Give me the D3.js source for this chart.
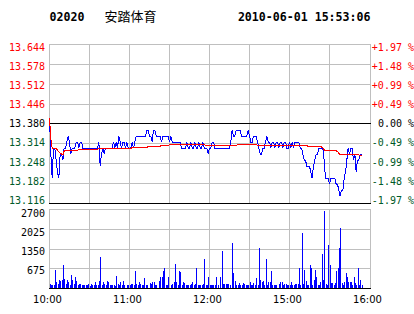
<!DOCTYPE html>
<html>
<head>
<meta charset="utf-8">
<script src="https://cdn.jsdelivr.net/npm/d3@7"></script>
<style>
  body { margin: 0; background: #fff; }
  svg { display: block; }
  text { font-family: "DejaVu Sans Mono", monospace; font-size: 10px; }
</style>
</head>
<body>
<svg id="chart" width="414" height="314"></svg>
<script>
const stockCode = '02020';
const stockName = '安踏体育';
const stampText = '2010-06-01 15:53:06';

const prevClose = 13.38;
const priceTicks = [13.644, 13.578, 13.512, 13.446, 13.380, 13.314, 13.248, 13.182, 13.116];
const pctTicks = ['+1.97 %', '+1.48 %', '+0.99 %', '+0.49 %', '0.00 %', '-0.49 %', '-0.99 %', '-1.48 %', '-1.97 %'];
const volTicks = [2700, 2025, 1350, 675];
const volGrid = [0, 675, 1350, 2025, 2700];
// minutes since open (lunch break removed), 4h session
const timeTicks = [0, 60, 120, 180, 240];
const timeLabels = ['10:00', '11:00', '12:00', '15:00', '16:00'];
const timeGrid = [0, 30, 60, 90, 120, 150, 180, 210, 240];

// one value per minute
const prices = [
  13.40, 13.28, 13.20, 13.30, 13.30, 13.26, 13.22, 13.20, 13.28, 13.28,
  13.26, 13.30, 13.30, 13.32, 13.34, 13.32, 13.28, 13.30, 13.30, 13.30,
  13.32, 13.32, 13.30, 13.32, 13.32, 13.30, 13.30, 13.30, 13.30, 13.30,
  13.30, 13.30, 13.30, 13.30, 13.30, 13.30, 13.30, 13.32, 13.24, 13.28,
  13.30, 13.28, 13.30, 13.30, 13.30, 13.30, 13.30, 13.30, 13.32, 13.30,
  13.32, 13.30, 13.34, 13.32, 13.30, 13.32, 13.32, 13.30, 13.32, 13.30,
  13.30, 13.30, 13.32, 13.30, 13.32, 13.34, 13.34, 13.34, 13.34, 13.34,
  13.34, 13.34, 13.34, 13.36, 13.36, 13.34, 13.34, 13.32, 13.36, 13.36,
  13.34, 13.34, 13.34, 13.34, 13.32, 13.34, 13.34, 13.34, 13.34, 13.34,
  13.32, 13.34, 13.32, 13.32, 13.32, 13.32, 13.32, 13.32, 13.32, 13.30,
  13.30, 13.30, 13.30, 13.32, 13.30, 13.30, 13.32, 13.30, 13.30, 13.32,
  13.30, 13.30, 13.32, 13.30, 13.30, 13.32, 13.30, 13.30, 13.30, 13.28,
  13.30, 13.30, 13.32, 13.32, 13.30, 13.30, 13.30, 13.30, 13.30, 13.30,
  13.30, 13.30, 13.30, 13.30, 13.30, 13.30, 13.32, 13.36, 13.34, 13.34,
  13.36, 13.36, 13.36, 13.36, 13.34, 13.34, 13.34, 13.34, 13.34, 13.36,
  13.34, 13.32, 13.32, 13.34, 13.34, 13.34, 13.32, 13.30, 13.28, 13.28,
  13.30, 13.30, 13.32, 13.34, 13.32, 13.32, 13.30, 13.32, 13.32, 13.30,
  13.32, 13.32, 13.30, 13.32, 13.32, 13.30, 13.32, 13.32, 13.30, 13.30,
  13.32, 13.30, 13.32, 13.30, 13.32, 13.32, 13.32, 13.32, 13.30, 13.30,
  13.28, 13.26, 13.26, 13.24, 13.24, 13.24, 13.22, 13.20, 13.24, 13.26,
  13.28, 13.28, 13.30, 13.30, 13.30, 13.30, 13.26, 13.20, 13.20, 13.20,
  13.18, 13.20, 13.20, 13.20, 13.20, 13.18, 13.18, 13.16, 13.14, 13.16,
  13.16, 13.20, 13.22, 13.26, 13.30, 13.28, 13.30, 13.30, 13.26, 13.28,
  13.22, 13.26, 13.26, 13.28, 13.28
];

const avgPrices = [
  13.400, 13.330, 13.299, 13.299, 13.299, 13.299, 13.293, 13.288, 13.284, 13.280,
  13.277, 13.290, 13.292, 13.292, 13.292, 13.292, 13.292, 13.292, 13.292, 13.292,
  13.292, 13.292, 13.296, 13.296, 13.296, 13.296, 13.296, 13.296, 13.296, 13.296,
  13.296, 13.296, 13.296, 13.296, 13.296, 13.296, 13.296, 13.299, 13.299, 13.299,
  13.299, 13.299, 13.299, 13.299, 13.299, 13.299, 13.299, 13.299, 13.299, 13.299,
  13.299, 13.299, 13.299, 13.299, 13.299, 13.299, 13.299, 13.299, 13.299, 13.299,
  13.299, 13.299, 13.302, 13.302, 13.302, 13.302, 13.302, 13.302, 13.302, 13.302,
  13.302, 13.302, 13.302, 13.302, 13.306, 13.306, 13.306, 13.306, 13.306, 13.306,
  13.306, 13.306, 13.306, 13.306, 13.309, 13.309, 13.309, 13.309, 13.309, 13.309,
  13.312, 13.312, 13.312, 13.312, 13.312, 13.312, 13.312, 13.312, 13.312, 13.312,
  13.312, 13.312, 13.312, 13.312, 13.312, 13.312, 13.312, 13.312, 13.312, 13.312,
  13.312, 13.312, 13.312, 13.312, 13.312, 13.312, 13.312, 13.309, 13.309, 13.309,
  13.309, 13.309, 13.309, 13.309, 13.309, 13.309, 13.309, 13.309, 13.309, 13.309,
  13.309, 13.309, 13.309, 13.309, 13.309, 13.309, 13.309, 13.309, 13.309, 13.309,
  13.309, 13.312, 13.312, 13.312, 13.312, 13.312, 13.312, 13.312, 13.312, 13.312,
  13.312, 13.312, 13.312, 13.312, 13.312, 13.312, 13.309, 13.309, 13.309, 13.309,
  13.309, 13.309, 13.309, 13.309, 13.309, 13.309, 13.309, 13.309, 13.309, 13.309,
  13.309, 13.309, 13.309, 13.309, 13.309, 13.309, 13.309, 13.309, 13.309, 13.309,
  13.309, 13.309, 13.309, 13.309, 13.309, 13.309, 13.309, 13.309, 13.309, 13.309,
  13.309, 13.309, 13.309, 13.309, 13.304, 13.304, 13.304, 13.304, 13.304, 13.304,
  13.304, 13.304, 13.304, 13.304, 13.304, 13.300, 13.295, 13.291, 13.291, 13.291,
  13.291, 13.291, 13.291, 13.291, 13.291, 13.291, 13.288, 13.283, 13.278, 13.278,
  13.278, 13.278, 13.278, 13.278, 13.278, 13.278, 13.278, 13.278, 13.278, 13.278,
  13.278, 13.278, 13.278, 13.275, 13.275
];

const volumes = [
  120, 110, 100, 90, 600, 210, 120, 290, 250, 260,
  770, 320, 120, 260, 190, 100, 430, 290, 120, 360,
  250, 90, 120, 150, 90, 90, 90, 90, 90, 120,
  60, 120, 90, 90, 220, 90, 90, 256, 1075, 90,
  188, 120, 90, 256, 188, 90, 90, 90, 90, 60,
  400, 120, 90, 188, 90, 256, 90, 0, 90, 90,
  90, 120, 120, 90, 570, 120, 90, 188, 120, 90,
  90, 325, 90, 90, 0, 154, 120, 188, 222, 90,
  90, 0, 256, 359, 380, 590, 680, 90, 90, 393,
  0, 90, 120, 222, 837, 222, 90, 598, 530, 90,
  188, 154, 90, 90, 90, 90, 120, 188, 90, 120,
  700, 90, 90, 90, 90, 120, 1008, 90, 90, 393,
  90, 90, 90, 90, 90, 393, 90, 0, 393, 1248,
  120, 120, 120, 120, 120, 90, 0, 1521, 496, 256,
  90, 90, 154, 90, 90, 154, 120, 90, 90, 90,
  222, 90, 90, 154, 90, 325, 90, 1360, 290, 222,
  256, 90, 1008, 90, 188, 188, 564, 90, 90, 90,
  90, 0, 120, 188, 188, 90, 120, 120, 90, 90,
  90, 222, 90, 90, 120, 120, 120, 700, 90, 1863,
  120, 632, 256, 90, 90, 769, 700, 90, 290, 632,
  393, 90, 90, 188, 1179, 290, 2625, 120, 90, 1453,
  803, 154, 154, 90, 154, 564, 700, 1384, 2034, 154,
  90, 222, 496, 393, 222, 188, 222, 90, 359, 154,
  90, 700, 90, 290, 90
];

const RED = '#ff0000';
const GREEN = '#005a28';
const GRID = '#bfbfbf';

const svg = d3.select('#chart');

const x = d3.scaleLinear().domain([0, 240]).range([49.5, 369.5]);
const yPrice = d3.scaleLinear().domain([13.116, 13.644]).range([203.5, 44.5]);
const yVol = d3.scaleLinear().domain([0, 2700]).range([288.5, 209.5]);
// label rows sit slightly off the grid rows
const yPriceLabel = d3.scaleLinear().domain([13.116, 13.644]).range([200.3, 46.9]);
const yVolLabel = d3.scaleLinear().domain([0, 2700]).range([289.3, 213.3]);

const crisp = (v) => Math.floor(v) + 0.5;
const labelColor = (v) => v > prevClose + 1e-6 ? RED : (v < prevClose - 1e-6 ? GREEN : '#000');

/* header */
const head = svg.append('g').attr('class', 'header');
head.append('text')
  .attr('x', 49.5).attr('y', 20.5)
  .style('font-size', '11.6px').style('font-weight', 'bold')
  .text(stockCode);
head.append('text')
  .attr('x', 104.5).attr('y', 20.5)
  .style('font-family', '"Noto Sans CJK SC", sans-serif').style('font-size', '13px')
  .text(stockName);
head.append('text')
  .attr('x', 370.5).attr('y', 20.5).attr('text-anchor', 'end')
  .style('font-size', '11.6px').style('font-weight', 'bold')
  .text(stampText);

/* grids */
const grid = svg.append('g').attr('class', 'grid').attr('shape-rendering', 'crispEdges');

grid.selectAll('.price-row').data(priceTicks).enter().append('line')
  .attr('class', 'price-row')
  .attr('x1', 49).attr('x2', 371)
  .attr('y1', (d) => crisp(yPrice(d))).attr('y2', (d) => crisp(yPrice(d)))
  .attr('stroke', (d, i) => (i === 4 || i === priceTicks.length - 1) ? '#000' : GRID);

grid.selectAll('.vol-row').data(volGrid).enter().append('line')
  .attr('class', 'vol-row')
  .attr('x1', 49).attr('x2', 371)
  .attr('y1', (d) => crisp(yVol(d))).attr('y2', (d) => crisp(yVol(d)))
  .attr('stroke', (d) => d === 0 ? '#000' : GRID);

grid.selectAll('.price-col').data(timeGrid).enter().append('line')
  .attr('class', 'price-col')
  .attr('x1', (d) => d === 240 ? 370.5 : crisp(x(d))).attr('x2', (d) => d === 240 ? 370.5 : crisp(x(d)))
  .attr('y1', crisp(yPrice(13.644))).attr('y2', crisp(yPrice(13.116)))
  .attr('stroke', GRID);

grid.selectAll('.vol-col').data(timeGrid).enter().append('line')
  .attr('class', 'vol-col')
  .attr('x1', (d) => d === 240 ? 370.5 : crisp(x(d))).attr('x2', (d) => d === 240 ? 370.5 : crisp(x(d)))
  .attr('y1', crisp(yVol(2700))).attr('y2', crisp(yVol(0)))
  .attr('stroke', GRID);

// redraw the black rows over the columns
grid.selectAll('.black-row').data([prevClose, 13.116]).enter().append('line')
  .attr('x1', 49).attr('x2', 371)
  .attr('y1', (d) => crisp(yPrice(d))).attr('y2', (d) => crisp(yPrice(d)))
  .attr('stroke', '#000');
grid.append('line')
  .attr('x1', 49).attr('x2', 371)
  .attr('y1', crisp(yVol(0))).attr('y2', crisp(yVol(0)))
  .attr('stroke', '#000');

/* volume bars */
svg.append('g').attr('class', 'volumes').attr('shape-rendering', 'crispEdges')
  .selectAll('rect').data(volumes).enter().append('rect')
  .attr('x', (d, i) => Math.round(x(i)))
  .attr('width', 1)
  .attr('y', (d) => Math.floor(yVol(d)))
  .attr('height', (d) => Math.max(0, Math.floor(yVol(0)) - Math.floor(yVol(d))))
  .attr('fill', '#0000ff');

/* price and average lines */
const line = d3.line()
  .x((d, i) => x(i))
  .y((d) => yPrice(d));

svg.append('path')
  .datum(prices)
  .attr('d', line)
  .attr('fill', 'none')
  .attr('stroke', '#0000ff')
  .attr('stroke-width', 1)
  .attr('shape-rendering', 'crispEdges');

svg.append('path')
  .datum(avgPrices)
  .attr('d', line)
  .attr('fill', 'none')
  .attr('stroke', RED)
  .attr('stroke-width', 1)
  .attr('shape-rendering', 'crispEdges');

/* axis labels */
svg.append('g').attr('class', 'price-labels')
  .selectAll('text').data(priceTicks).enter().append('text')
  .attr('x', 45).attr('y', (d) => yPriceLabel(d))
  .attr('dy', '0.36em')
  .attr('text-anchor', 'end')
  .attr('fill', labelColor)
  .text((d) => d3.format('.3f')(d));

svg.append('g').attr('class', 'pct-labels')
  .selectAll('text').data(pctTicks).enter().append('text')
  .attr('x', 414).attr('y', (d, i) => yPriceLabel(priceTicks[i]))
  .attr('dy', '0.36em')
  .attr('text-anchor', 'end')
  .attr('fill', (d, i) => labelColor(priceTicks[i]))
  .text((d) => d);

svg.append('g').attr('class', 'vol-labels')
  .selectAll('text').data(volTicks).enter().append('text')
  .attr('x', 45).attr('y', (d) => yVolLabel(d))
  .attr('dy', '0.36em')
  .attr('text-anchor', 'end')
  .attr('fill', '#000')
  .text((d) => d);

svg.append('g').attr('class', 'time-labels')
  .selectAll('text').data(timeTicks).enter().append('text')
  .attr('x', (d) => x(d) - 2).attr('y', 302.5)
  .attr('text-anchor', 'middle')
  .style('font-family', '"DejaVu Sans", sans-serif')
  .style('font-size', '10px')
  .attr('fill', '#000')
  .text((d, i) => timeLabels[i]);
</script>
</body>
</html>
